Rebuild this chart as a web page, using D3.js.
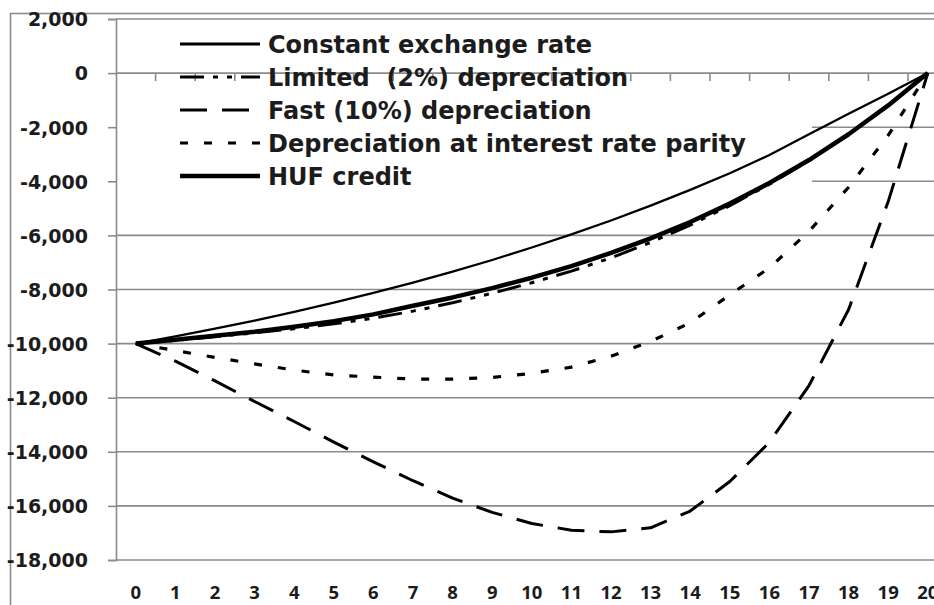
<!DOCTYPE html>
<html>
<head>
<meta charset="utf-8">
<script src="https://cdn.jsdelivr.net/npm/d3@7/dist/d3.min.js"></script>
<style>
  html, body { margin: 0; padding: 0; background: #fff; }
  svg { display: block; }
</style>
</head>
<body>
<svg id="chart" width="934" height="605"></svg>
<script>
// ---- data ----
const categories = ["0","1","2","3","4","5","6","7","8","9","10","11","12","13","14","15","16","17","18","19","20"];
const constantRate = [-10000,-9733,-9449,-9148,-8826,-8487,-8126,-7743,-7339,-6909,-6448,-5961,-5448,-4900,-4317,-3700,-3030,-2260,-1500,-760,0];
const limitedDep  = [-10000,-9885,-9750,-9600,-9450,-9270,-9060,-8800,-8490,-8140,-7750,-7320,-6830,-6260,-5620,-4900,-4110,-3240,-2270,-1200,0];
const fastDep     = [-10000,-10650,-11380,-12140,-12880,-13640,-14370,-15070,-15710,-16240,-16650,-16900,-16960,-16810,-16190,-15100,-13650,-11550,-8740,-4750,0];
const parityDep   = [-10000,-10260,-10510,-10750,-10980,-11160,-11240,-11310,-11310,-11250,-11100,-10870,-10470,-9920,-9230,-8200,-7200,-5850,-4220,-2300,0];
const hufCredit   = [-10000,-9861,-9706,-9560,-9380,-9170,-8920,-8600,-8293,-7949,-7564,-7133,-6650,-6109,-5503,-4825,-4065,-3214,-2261,-1194,0];
const seriesNames = ["Constant exchange rate","Limited  (2%) depreciation","Fast (10%) depreciation","Depreciation at interest rate parity","HUF credit"];
const yTickValues = [2000,0,-2000,-4000,-6000,-8000,-10000,-12000,-14000,-16000,-18000];
const yTickLabels = ["2,000","0","-2,000","-4,000","-6,000","-8,000","-10,000","-12,000","-14,000","-16,000","-18,000"];

// ---- styles ----
const styles = [
  { width: 2.3, dash: null },
  { width: 3,   dash: "24,9,5,9,5,9" },
  { width: 3,   dash: "27,15" },
  { width: 3.2, dash: "8,16" },
  { width: 4.5, dash: null }
];
const seriesData = [constantRate, limitedDep, fastDep, parityDep, hufCredit];

const svg = d3.select("#chart");
const plotLeft = 116, plotTop = 19, plotBottom = 560;
const catStep = 39.6;
const plotRight = plotLeft + catStep * categories.length;

const x = d3.scaleBand().domain(categories).range([plotLeft, plotRight]).padding(0);
const y = d3.scaleLinear().domain([-18000, 2000]).range([plotBottom, plotTop]);
const cx = c => x(c) + x.bandwidth() / 2;

const gridColor = "#8a8a8a";
const textColor = "#1c1c1c";

// outer chart border
svg.append("rect")
  .attr("x", 10.5).attr("y", 13.5)
  .attr("width", 1000).attr("height", 700)
  .attr("fill", "none").attr("stroke", gridColor).attr("stroke-width", 1.6);

// gridlines
svg.append("g").selectAll("line")
  .data(yTickValues.filter(v => v !== 0))
  .join("line")
  .attr("x1", plotLeft).attr("x2", 934)
  .attr("y1", d => y(d)).attr("y2", d => y(d))
  .attr("stroke", gridColor).attr("stroke-width", 1.6);

// legend background (covers gridlines behind legend)
svg.append("rect")
  .attr("x", plotLeft + 1).attr("y", plotTop + 3)
  .attr("width", 812 - plotLeft - 1).attr("height", 198 - plotTop - 3)
  .attr("fill", "#fff");

// y axis
const yAxis = d3.axisLeft(y)
  .tickValues(yTickValues)
  .tickFormat((d, i) => yTickLabels[i])
  .tickSize(8).tickPadding(20);
const gy = svg.append("g").attr("transform", `translate(${plotLeft},0)`).call(yAxis);
gy.select(".domain").attr("stroke", gridColor).attr("stroke-width", 1.6);
gy.selectAll(".tick line").attr("stroke", gridColor).attr("stroke-width", 1.6);
gy.selectAll(".tick text")
  .attr("fill", textColor)
  .attr("font-family", "'DejaVu Sans', sans-serif")
  .attr("font-weight", "bold")
  .attr("font-size", "19px")
  .attr("dy", "0.36em");

// x axis line at 0 with ticks at category boundaries
const gx = svg.append("g");
gx.append("line")
  .attr("x1", plotLeft).attr("x2", 934)
  .attr("y1", y(0)).attr("y2", y(0))
  .attr("stroke", gridColor).attr("stroke-width", 1.6);
gx.selectAll("line.tk")
  .data(categories.slice(1))
  .join("line").attr("class", "tk")
  .attr("x1", d => x(d)).attr("x2", d => x(d))
  .attr("y1", y(0)).attr("y2", y(0) + 8)
  .attr("stroke", gridColor).attr("stroke-width", 1.6);

// x labels at bottom
svg.append("g").selectAll("text")
  .data(categories)
  .join("text")
  .attr("x", d => cx(d))
  .attr("y", 599)
  .attr("text-anchor", "middle")
  .attr("fill", textColor)
  .attr("font-family", "'Open Sans', sans-serif")
  .attr("font-weight", "bold")
  .attr("font-size", "18.5px")
  .text(d => d);

// series
const line = d3.line()
  .x((d, i) => cx(categories[i]))
  .y(d => y(d));

svg.append("g").selectAll("path")
  .data(seriesData)
  .join("path")
  .attr("d", d => line(d))
  .attr("fill", "none")
  .attr("stroke", "#000")
  .attr("stroke-width", (d, i) => styles[i].width)
  .attr("stroke-dasharray", (d, i) => styles[i].dash)
  .attr("stroke-linejoin", "round");

// legend
const legend = svg.append("g");
const legendY = [44, 77, 110, 143, 176];
const items = legend.selectAll("g").data(seriesNames).join("g")
  .attr("transform", (d, i) => `translate(0,${legendY[i]})`);
items.append("line")
  .attr("x1", 180).attr("x2", 260).attr("y1", 0).attr("y2", 0)
  .attr("stroke", "#000")
  .attr("stroke-width", (d, i) => Math.max(styles[i].width, 2.8))
  .attr("stroke-dasharray", (d, i) => styles[i].dash);
items.append("text")
  .attr("x", 268).attr("y", 9)
  .attr("fill", textColor)
  .attr("font-family", "'DejaVu Sans', sans-serif")
  .attr("font-weight", "bold")
  .attr("font-size", "24px")
  .attr("xml:space", "preserve")
  .style("white-space", "pre")
  .text(d => d);
</script>
</body>
</html>
